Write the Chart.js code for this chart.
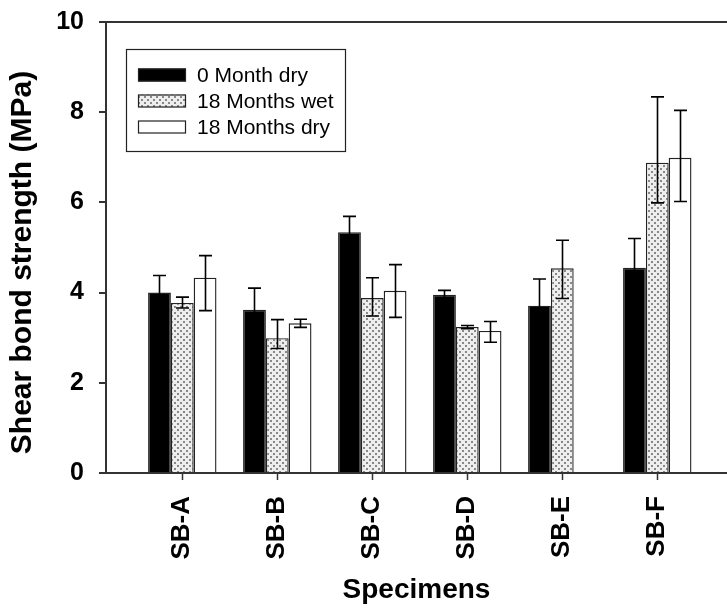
<!DOCTYPE html>
<html>
<head>
<meta charset="utf-8">
<script src="https://cdn.jsdelivr.net/npm/chart.js@4/dist/chart.umd.min.js"></script>
<style>
  html, body { margin: 0; padding: 0; background: #fff; }
  canvas { display: block; }
</style>
</head>
<body>
<canvas id="chart" width="727" height="615"></canvas>
<script>
// Shear bond strength per specimen, three conditioning regimes
const categories = ['SB-A', 'SB-B', 'SB-C', 'SB-D', 'SB-E', 'SB-F'];
const seriesNames = ['0 Month dry', '18 Months wet', '18 Months dry'];

const dry0 = [4.00, 3.62, 5.34, 3.95, 3.71, 4.55];
const dry0ErrUp = [0.38, 0.48, 0.35, 0.10, 0.59, 0.65];
const dry0ErrDown = [0.38, 0.48, 0.35, 0.10, 0.59, 0.65];

const wet18 = [3.77, 2.99, 3.88, 3.24, 4.54, 6.88];
const wet18ErrUp = [0.13, 0.41, 0.45, 0.03, 0.62, 1.46];
const wet18ErrDown = [0.11, 0.23, 0.40, 0.04, 0.67, 0.89];

const dry18 = [4.33, 3.32, 4.04, 3.15, null, 6.99];
const dry18ErrUp = [0.49, 0.09, 0.58, 0.21, null, 1.05];
const dry18ErrDown = [0.73, 0.09, 0.59, 0.25, null, 0.97];

const yTicks = [0, 2, 4, 6, 8, 10];

const FONT = '"Liberation Sans", Arial, Helvetica, sans-serif';
const AXIS = '#333333';

// light grey fill with a staggered dot grid
function dotPattern() {
  const tile = document.createElement('canvas');
  tile.width = 6; tile.height = 6;
  const g = tile.getContext('2d');
  g.fillStyle = '#eeeeee';
  g.fillRect(0, 0, 6, 6);
  g.fillStyle = '#888888';
  g.fillRect(0, 0, 2, 2);
  g.fillRect(3, 3, 2, 2);
  return document.createElement('canvas').getContext('2d').createPattern(tile, 'repeat');
}
const dots = dotPattern();

const toPoints = arr => arr.map((v, i) => ({ x: i + 1, y: v }));

const errors = [
  { up: dry0ErrUp, down: dry0ErrDown },
  { up: wet18ErrUp, down: wet18ErrDown },
  { up: dry18ErrUp, down: dry18ErrDown }
];

// vertical whiskers with caps on top of every bar
const errorBars = {
  id: 'errorBars',
  afterDatasetsDraw(chart) {
    const ctx = chart.ctx;
    const y = chart.scales.y;
    ctx.save();
    ctx.strokeStyle = '#000';
    ctx.lineWidth = 1.6;
    chart.data.datasets.forEach((ds, di) => {
      const meta = chart.getDatasetMeta(di);
      meta.data.forEach((bar, i) => {
        const v = ds.data[i].y;
        if (v === null || v === undefined) return;
        const e = errors[di];
        const top = y.getPixelForValue(v + e.up[i]);
        const bot = y.getPixelForValue(v - e.down[i]);
        const x = Math.round(bar.x) + 0.5;
        const half = 6.5;
        ctx.beginPath();
        ctx.moveTo(x, top); ctx.lineTo(x, bot);
        ctx.moveTo(x - half, top); ctx.lineTo(x + half, top);
        ctx.moveTo(x - half, bot); ctx.lineTo(x + half, bot);
        ctx.stroke();
      });
    });
    ctx.restore();
  }
};

// boxed legend inside the upper-left corner of the plot
const boxLegend = {
  id: 'boxLegend',
  afterDraw(chart) {
    const ctx = chart.ctx;
    const a = chart.chartArea;
    const left = a.left + 20, top = a.top + 27, w = 219, h = 102;
    ctx.save();
    ctx.fillStyle = '#fff';
    ctx.fillRect(left, top, w, h);
    ctx.strokeStyle = '#222';
    ctx.lineWidth = 1.2;
    ctx.strokeRect(left + 0.5, top + 0.5, w, h);
    ctx.font = '21px ' + FONT;
    ctx.textBaseline = 'middle';
    ctx.textAlign = 'left';
    chart.data.datasets.forEach((ds, i) => {
      const cy = top + 26 + i * 26;
      ctx.fillStyle = ds.backgroundColor;
      ctx.fillRect(left + 12, cy - 6.5, 48, 13);
      ctx.strokeStyle = '#222';
      ctx.lineWidth = 1.2;
      ctx.strokeRect(left + 12.5, cy - 6, 47, 12);
      ctx.fillStyle = '#000';
      ctx.fillText(ds.label, left + 71, cy + 1);
    });
    ctx.restore();
  }
};

// rotated y-axis caption
const yCaption = {
  id: 'yCaption',
  afterDraw(chart) {
    const ctx = chart.ctx;
    const a = chart.chartArea;
    ctx.save();
    ctx.translate(23, (a.top + a.bottom) / 2 + 15);
    ctx.rotate(-Math.PI / 2);
    ctx.font = 'bold 30px ' + FONT;
    ctx.fillStyle = '#000';
    ctx.textAlign = 'center';
    ctx.textBaseline = 'middle';
    ctx.fillText('Shear bond strength (MPa)', 0, 0);
    ctx.restore();
  }
};

const fills = ['#000000', dots, '#ffffff'];
const seriesData = [dry0, wet18, dry18];

new Chart(document.getElementById('chart'), {
  type: 'bar',
  data: {
    datasets: seriesData.map((arr, i) => ({
      label: seriesNames[i],
      data: toPoints(arr),
      backgroundColor: fills[i],
      borderColor: '#222',
      borderWidth: 1.4,
      categoryPercentage: 0.72,
      barPercentage: 1.0
    }))
  },
  options: {
    responsive: false,
    animation: false,
    devicePixelRatio: 1,
    layout: { padding: { top: 22, left: 0, right: 0, bottom: 0 } },
    plugins: {
      legend: { display: false },
      tooltip: { enabled: false }
    },
    scales: {
      x: {
        type: 'linear',
        min: 0.197,
        max: 6.734,
        offset: false,
        afterBuildTicks(scale) {
          scale.ticks = categories.map((c, i) => ({ value: i + 1 }));
        },
        afterFit(scale) {
          scale.height = 142;
          scale.paddingLeft = 0;
          scale.paddingRight = 0;
        },
        grid: {
          offset: false,
          drawOnChartArea: false,
          drawTicks: true,
          tickLength: 7,
          tickColor: AXIS,
          tickWidth: 1.5
        },
        border: { display: true, color: AXIS, width: 2 },
        ticks: {
          autoSkip: false,
          maxRotation: 90,
          minRotation: 90,
          padding: 16,
          color: '#000',
          font: { family: FONT, size: 26, weight: 'bold' },
          callback: v => categories[v - 1]
        },
        title: {
          display: true,
          text: 'Specimens',
          color: '#000',
          font: { family: FONT, size: 28, weight: 'bold' },
          padding: { top: 0, bottom: 8 }
        }
      },
      y: {
        min: 0,
        max: 10,
        afterBuildTicks(scale) {
          scale.ticks = yTicks.map(v => ({ value: v }));
        },
        afterFit(scale) {
          scale.width = 106;
          scale.paddingTop = 0;
          scale.paddingBottom = 0;
        },
        grid: {
          drawOnChartArea: true,
          drawTicks: true,
          tickLength: 7,
          tickColor: AXIS,
          tickWidth: 2,
          lineWidth: 2,
          color: c => (c.tick && c.tick.value === 10 ? AXIS : 'rgba(0,0,0,0)')
        },
        border: { display: true, color: AXIS, width: 2 },
        ticks: {
          padding: 15,
          color: '#000',
          font: { family: FONT, size: 25, weight: 'bold' },
          callback: v => String(v)
        }
      }
    }
  },
  plugins: [errorBars, boxLegend, yCaption]
});
</script>
</body>
</html>
